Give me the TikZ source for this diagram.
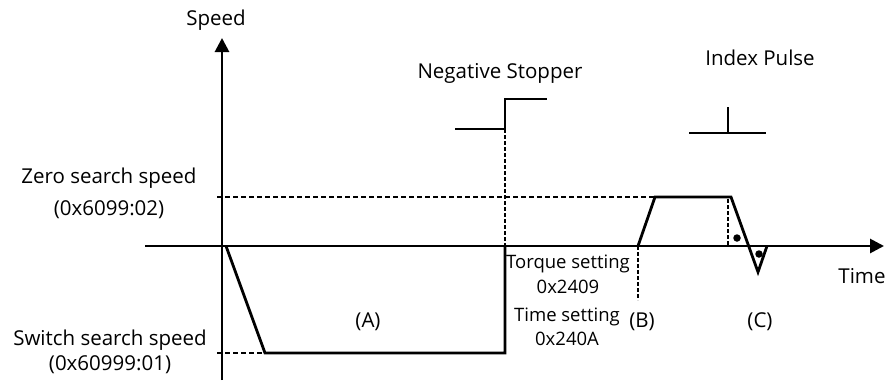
\documentclass[tikz,border=0pt]{standalone}
\usepackage{fontspec}
\setmainfont{Open Sans}
\usetikzlibrary{arrows.meta}
\begin{document}
\begin{tikzpicture}[x=1pt,y=-1pt,
  wave/.style={line width=2.8pt,line join=miter},
  axis/.style={line width=2.8pt},
  dotline/.style={line width=2.6pt,dash pattern=on 3.5pt off 2.5pt},
  dashline/.style={line width=2.2pt,dash pattern=on 5pt off 3pt},
  lbl/.style={font=\fontsize{20.5}{24}\selectfont,inner sep=0pt,align=center},
  slbl/.style={font=\fontsize{18.5}{22}\selectfont,inner sep=0pt,align=center},
  dot/.style={circle,fill=black,inner sep=0pt,minimum size=7.5pt}]
\useasboundingbox (0,0) rectangle (888,381);
% axes
\coordinate (yb) at (222,380);
\coordinate (yt) at (222,38);
\coordinate (xl) at (145,246);
\coordinate (xr) at (884,246);
\draw[axis,-{Triangle[length=14pt,width=14pt]}] (yb) -- (yt);
\draw[axis,-{Triangle[length=14pt,width=14pt]}] (xl) -- (xr);
\node[lbl] (speed) at (216,20) {Speed};
\node[lbl] (time) at (862,276) {Time};
% waveform
\coordinate (p0) at (226,246);
\coordinate (p1) at (265,353);
\coordinate (p2) at (505,353);
\coordinate (p3) at (505,246);
\coordinate (p4) at (638,246);
\coordinate (p5) at (655,197);
\coordinate (p6) at (731,197);
\coordinate (p7) at (758,272);
\coordinate (p8) at (767,246);
\draw[wave] (p0) -- (p1) -- (p2) -- (p3);
\draw[wave] (p4) -- (p5) -- (p6) -- (p7) -- (p8);
% dashed reference lines
\coordinate (zl) at (217,197);
\coordinate (sl) at (217,353);
\draw[dashline] (zl) -- (p5);
\draw[dashline] (sl) -- (p1);
% negative stopper
\coordinate (s0) at (455,129);
\coordinate (s1) at (505,129);
\coordinate (s2) at (505,99);
\coordinate (s3) at (547,99);
\draw[wave] (s0) -- (s1) -- (s2) -- (s3);
\draw[dotline] (s1) -- (p3);
\node[lbl] (neg) at (500,73) {Negative Stopper};
% index pulse
\coordinate (i0) at (689,133);
\coordinate (i1) at (766,133);
\coordinate (i2) at (728,133);
\coordinate (i3) at (728,107);
\draw[wave] (i0) -- (i1);
\draw[wave] (i2) -- (i3);
\node[lbl] (idx) at (760,58) {Index Pulse};
% dotted verticals
\coordinate (c0) at (728,199);
\coordinate (c1) at (728,246);
\draw[dotline] (c0) -- (c1);
\coordinate (b1) at (638,300);
\draw[dotline] (p4) -- (b1);
% dots
\node[dot] (d1) at (737,238) {};
\node[dot] (d2) at (759,254) {};
% labels
\node[lbl] (zero) at (109,178) {Zero search speed};
\node[lbl] (zero2) at (109,210) {(0x6099:02)};
\node[lbl] (sw) at (110,340) {Switch search speed};
\node[lbl] (sw2) at (110,365) {(0x60999:01)};
\node[lbl] (A) at (368,322) {(A)};
\node[slbl] (tq) at (568,264) {Torque setting};
\node[slbl] (tq2) at (568,287) {0x2409};
\node[slbl] (ts) at (567,317) {Time setting};
\node[slbl] (ts2) at (567,339) {0x240A};
\node[lbl] (B) at (642,322) {(B)};
\node[lbl] (C) at (760,322) {(C)};
\end{tikzpicture}
\end{document}
